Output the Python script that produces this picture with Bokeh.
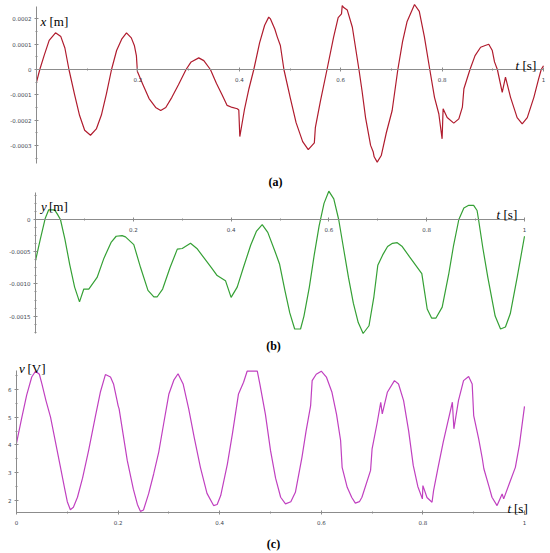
from bokeh.plotting import figure
from bokeh.models import FixedTicker, Label, Range1d, LinearAxis
from bokeh.embed import file_html
from bokeh.resources import INLINE

# ---------------- data ----------------
a_t = [0.000, 0.0065, 0.015, 0.025, 0.0375, 0.048, 0.056, 0.064, 0.075, 0.085, 0.095, 0.1065,
       0.118, 0.128, 0.138, 0.148, 0.158, 0.168, 0.1775, 0.187, 0.193, 0.197, 0.199, 0.21,
       0.222, 0.235, 0.245, 0.255, 0.267, 0.28, 0.295, 0.305, 0.32, 0.33, 0.343, 0.355,
       0.366, 0.376, 0.386, 0.396, 0.399, 0.401, 0.41, 0.419, 0.4286, 0.44, 0.45, 0.458,
       0.4615, 0.47, 0.475, 0.481, 0.488, 0.501, 0.512, 0.525, 0.536, 0.548, 0.55, 0.56,
       0.573, 0.586, 0.595, 0.6016, 0.603, 0.606, 0.613, 0.623, 0.636, 0.642, 0.649, 0.659,
       0.664, 0.666, 0.672, 0.68, 0.69, 0.7015, 0.7127, 0.722, 0.731, 0.7456, 0.755, 0.765,
       0.7757, 0.785, 0.7935, 0.800, 0.802, 0.81, 0.823, 0.833, 0.84, 0.843, 0.855, 0.865,
       0.876, 0.885, 0.892, 0.899, 0.9034, 0.909, 0.9186, 0.925, 0.935, 0.948, 0.958, 0.968,
       0.981, 0.99, 0.9955, 1.0]
a_x = [-0.50, 0.00, 0.55, 1.15, 1.45, 1.30, 0.85, 0.00, -0.98, -1.82, -2.40, -2.60,
       -2.35, -1.80, -0.95, 0.00, 0.75, 1.20, 1.45, 1.25, 0.95, 0.55, -0.08, -0.60,
       -1.15, -1.50, -1.62, -1.50, -1.10, -0.60, 0.00, 0.30, 0.46, 0.35, 0.00, -0.55,
       -1.00, -1.42, -1.50, -1.55, -1.60, -2.65, -1.60, -0.76, 0.00, 1.05, 1.75, 2.07,
       2.00, 1.60, 1.28, 0.95, 0.00, -1.16, -2.10, -2.85, -3.17, -2.90, -2.30, -1.25,
       0.00, 1.28, 2.05, 2.20, 2.53, 2.45, 2.35, 1.67, 0.00, -0.83, -1.90, -3.00,
       -3.25, -3.45, -3.66, -3.40, -2.50, -1.62, 0.00, 1.10, 1.90, 2.57, 2.30, 1.30,
       0.00, -1.10, -1.75, -2.74, -1.55, -1.90, -2.12, -1.95, -1.49, -0.76, 0.00, 0.55,
       0.88, 0.95, 1.00, 0.75, 0.30, 0.00, -0.90, -0.30, -1.10, -1.90, -2.15, -1.90,
       -1.10, -0.40, 0.00, 0.15]
a_x = [v * 1e-4 for v in a_x]

b_t = [0.0, 0.01, 0.02, 0.027, 0.039, 0.045, 0.051, 0.06, 0.07, 0.08, 0.09, 0.0988, 0.109,
       0.126, 0.14, 0.155, 0.165, 0.177, 0.184, 0.201, 0.215, 0.23, 0.242, 0.249, 0.26, 0.275,
       0.29, 0.30, 0.317, 0.33, 0.345, 0.36, 0.3715, 0.3885, 0.40, 0.4125, 0.425, 0.44, 0.452,
       0.4636, 0.475, 0.49, 0.499, 0.51, 0.52, 0.53, 0.542, 0.549, 0.56, 0.57, 0.58, 0.59,
       0.5998, 0.61, 0.62, 0.63, 0.64, 0.65, 0.66, 0.670, 0.682, 0.692, 0.70, 0.71, 0.72,
       0.73, 0.7397, 0.75, 0.765, 0.79, 0.801, 0.81, 0.819, 0.8317, 0.845, 0.855, 0.8657,
       0.876, 0.886, 0.896, 0.903, 0.906, 0.915, 0.925, 0.94, 0.951, 0.961, 0.971, 0.985, 1.0]
b_y = [-0.64, -0.30, 0.02, 0.15, 0.15, 0.08, 0.00, -0.30, -0.70, -1.05, -1.28, -1.08, -1.08,
       -0.90, -0.60, -0.35, -0.26, -0.25, -0.27, -0.39, -0.75, -1.10, -1.20, -1.20, -1.08, -0.75,
       -0.46, -0.45, -0.37, -0.45, -0.60, -0.75, -0.87, -0.95, -1.21, -1.05, -0.75, -0.40, -0.18,
       -0.08, -0.20, -0.50, -0.69, -1.10, -1.45, -1.70, -1.70, -1.50, -1.05, -0.55, -0.10, 0.25,
       0.44, 0.32, 0.00, -0.45, -0.90, -1.30, -1.60, -1.77, -1.65, -1.20, -0.71, -0.55, -0.42,
       -0.37, -0.36, -0.42, -0.58, -0.84, -1.39, -1.53, -1.53, -1.36, -0.85, -0.40, 0.00,
       0.18, 0.22, 0.22, 0.14, 0.00, -0.45, -0.90, -1.50, -1.70, -1.67, -1.46, -0.90, -0.26]
b_y = [v * 1e-3 for v in b_y]

c_t = [0.0, 0.01, 0.02, 0.03, 0.0374, 0.045, 0.05, 0.058, 0.067, 0.0866, 0.095, 0.1, 0.106,
       0.112, 0.12, 0.13, 0.142, 0.155, 0.165, 0.175, 0.185, 0.191, 0.198, 0.200, 0.202, 0.218,
       0.23, 0.238, 0.244, 0.25, 0.26, 0.27, 0.28, 0.29, 0.30, 0.31, 0.318, 0.328, 0.339, 0.35,
       0.362, 0.375, 0.388, 0.395, 0.402, 0.415, 0.425, 0.437, 0.447, 0.454, 0.474, 0.479, 0.49,
       0.5, 0.51, 0.52, 0.5295, 0.54, 0.549, 0.562, 0.57, 0.579, 0.582, 0.59, 0.6, 0.61, 0.621,
       0.63, 0.638, 0.641, 0.651, 0.66, 0.667, 0.675, 0.68, 0.697, 0.7, 0.71, 0.717, 0.72, 0.73,
       0.744, 0.752, 0.762, 0.772, 0.781, 0.79, 0.799, 0.8, 0.808, 0.818, 0.821, 0.83, 0.84,
       0.85, 0.858, 0.861, 0.87, 0.88, 0.89, 0.897, 0.9, 0.91, 0.917, 0.92, 0.93, 0.936, 0.946,
       0.956, 0.959, 0.97, 0.982, 0.99, 1.0]
c_v = [4.06, 4.95, 5.80, 6.45, 6.66, 6.55, 6.20, 5.60, 5.00, 3.19, 2.40, 1.95, 1.66,
       1.75, 2.11, 2.80, 3.80, 5.00, 5.90, 6.54, 6.45, 6.20, 5.60, 5.42, 5.30, 3.44,
       2.40, 1.85, 1.60, 1.65, 2.23, 2.95, 3.74, 4.80, 5.84, 6.35, 6.57, 6.20, 5.30, 4.25,
       3.19, 2.25, 1.81, 1.85, 2.17, 3.30, 4.40, 5.84, 6.26, 6.66, 6.66, 6.20, 5.10,
       3.80, 2.80, 2.11, 1.87, 1.95, 2.29, 3.56, 4.50, 5.42, 6.32, 6.55, 6.66, 6.45, 5.90,
       5.10, 4.16, 3.19, 2.47, 2.10, 1.90, 1.95, 2.11, 3.08, 3.86, 4.80, 5.54, 5.12, 5.90,
       6.32, 6.20, 5.60, 4.50, 3.26, 2.50, 2.05, 2.53, 2.10, 1.93, 2.35, 3.20, 4.10,
       4.90, 5.54, 4.58, 5.60, 6.32, 6.47, 6.20, 5.06, 4.20, 3.50, 3.14, 2.50, 2.11, 1.81,
       2.23, 2.05, 2.60, 3.19, 4.00, 5.39]

# tick values and labels
t_major = [0.2, 0.4, 0.6, 0.8, 1.0]
t_major_c = [0.0, 0.2, 0.4, 0.6, 0.8, 1.0]
t_minor = [0.1, 0.3, 0.5, 0.7, 0.9]
t_labels = {0: "0", 0.2: "0.2", 0.4: "0.4", 0.6: "0.6", 0.8: "0.8", 1: "1"}

a_yticks = [-0.0003, -0.0002, -0.0001, 0.0, 0.0001, 0.0002]
a_ylabels = ["-0.0003", "-0.0002", "-0.0001", "0", "0.0001", "0.0002"]
a_yminor = [-0.00035, -0.00025, -0.00015, -0.00005, 0.00005, 0.00015]

b_yticks = [-0.0015, -0.0010, -0.0005, 0.0]
b_ylabels = ["-0.0015", "-0.0010", "-0.0005", "0"]
b_yminor = [-0.00175, -0.001625, -0.001375, -0.00125, -0.001125, -0.000875, -0.00075,
            -0.000625, -0.000375, -0.00025, -0.000125, 0.000125, 0.00025, 0.000375]

c_yticks = [2, 3, 4, 5, 6]
c_ylabels = ["2", "3", "4", "5", "6"]
c_yminor = [2.5, 3.5, 4.5, 5.5, 6.5]

RED = "#b01c2e"
GREEN = "#35a035"
MAGENTA = "#c040c0"
AXIS = "#8c8c8c"
TICKTXT = "#3d4650"

W, H = 550, 553

# one canvas; the page (screen) coordinates are the default ranges
p = figure(width=W, height=H, output_backend="svg", toolbar_location=None,
           x_range=Range1d(0, W), y_range=Range1d(H, 0),
           x_axis_type=None, y_axis_type=None,
           min_border=0, min_border_left=0, min_border_right=0,
           min_border_top=0, min_border_bottom=0)
p.outline_line_color = None
p.grid.visible = False
p.background_fill_color = "white"
p.border_fill_color = "white"


def style_axis(ax):
    ax.axis_line_color = AXIS
    ax.major_tick_line_color = AXIS
    ax.minor_tick_line_color = AXIS
    ax.major_tick_in = 2
    ax.major_tick_out = 2
    ax.minor_tick_in = 1
    ax.minor_tick_out = 1
    ax.major_label_text_font = "DejaVu Sans"
    ax.major_label_text_font_size = "5.5px"
    ax.major_label_text_color = TICKTXT


def panel(name, t0px, t1px, vref, pref, ppu, ybounds, xaxis_at, xticks,
          yticks, ylabels, yminor, t, v, color):
    s = t1px - t0px
    xr = Range1d(-t0px / s, (W - t0px) / s)
    yr = Range1d(vref + (pref - H) / ppu, vref + pref / ppu)
    p.extra_x_ranges[name] = xr
    p.extra_y_ranges[name] = yr
    xa = LinearAxis(x_range_name=name, y_range_name=name, fixed_location=xaxis_at,
                    bounds=(0, 1),
                    ticker=FixedTicker(ticks=xticks, minor_ticks=t_minor),
                    major_label_overrides=dict(t_labels), major_label_standoff=5)
    ya = LinearAxis(x_range_name=name, y_range_name=name, fixed_location=0,
                    bounds=ybounds,
                    ticker=FixedTicker(ticks=yticks, minor_ticks=yminor),
                    major_label_overrides={k: lab for k, lab in zip(yticks, ylabels)},
                    major_label_standoff=3)
    style_axis(xa)
    style_axis(ya)
    p.add_layout(xa, "below")
    p.add_layout(ya, "left")
    p.line(t, v, x_range_name=name, y_range_name=name, line_color=color, line_width=1.2)


panel("a", 36, 543, 0.0, 69, 253000, (-0.00037, 0.00025), 0, t_major,
      a_yticks, a_ylabels, a_yminor, a_t, a_x, RED)
panel("b", 35, 524, 0.0, 219, 64400, (-0.00177, 0.00042), 0, t_major,
      b_yticks, b_ylabels, b_yminor, b_t, b_y, GREEN)
panel("c", 16, 524, 6.0, 389, 27.7, (1.556, 6.686), 1.556, t_major_c,
      c_yticks, c_ylabels, c_yminor, c_t, c_v, MAGENTA)


def lab(txt, x, y, style="normal", size="13px", align="left", base="alphabetic"):
    p.add_layout(Label(x=x, y=y, text=txt, text_font="Liberation Serif",
                       text_font_size=size, text_font_style=style, text_color="black",
                       text_align=align, text_baseline=base))


# axis names and captions (page positions)
lab("x", 40, 21, "italic"); lab("[m]", 49, 21)
lab("t", 515, 65, "italic"); lab("[s]", 522, 65)
lab("(a)", 275, 181, "bold", "12px", "center", "middle")

lab("y", 40.5, 206, "italic"); lab("[m]", 48.5, 206)
lab("t", 496, 214, "italic"); lab("[s]", 503, 214)
lab("(b)", 273, 345, "bold", "12px", "center", "middle")

lab("v", 18.5, 368, "italic"); lab("[V]", 27, 368)
lab("t", 507, 508, "italic"); lab("[s]", 513.5, 508)
lab("(c)", 273, 543, "bold", "12px", "center", "middle")

open("out.html", "w").write(file_html(p, INLINE))
